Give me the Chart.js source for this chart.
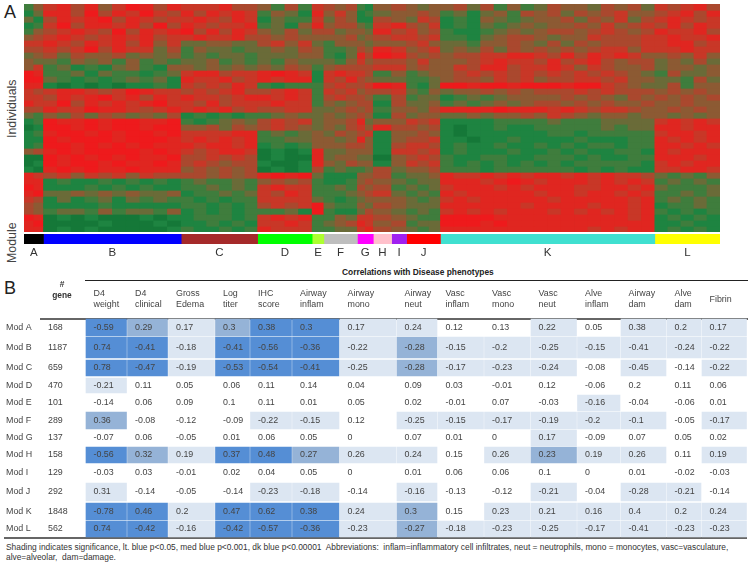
<!DOCTYPE html>
<html>
<head>
<meta charset="utf-8">
<title>Module heatmap and phenotype correlations</title>
<script src="https://cdn.jsdelivr.net/npm/chart.js@4/dist/chart.umd.min.js"></script>
<style>
	html, body { margin: 0; padding: 0; background: #fff; }
	body { position: relative; width: 752px; height: 566px; overflow: hidden; font-family: "Liberation Sans", Arial, sans-serif; color: #444; }
	canvas { position: absolute; display: block; }
	.txt { position: absolute; white-space: pre; }
	.rule { position: absolute; }
	.panel { font-size: 18px; color: #222; line-height: 18px; }
	.side { font-size: 12.4px; line-height: 14px; transform-origin: 0 0; transform: rotate(-90deg); }
</style>
</head>
<body>
<div class="txt panel" style="left:4px;top:3px">A</div>
<div class="txt panel" style="left:4px;top:279px">B</div>
<div class="txt side" style="left:5px;top:138px">Individuals</div>
<div class="txt side" style="left:5px;top:263px">Module</div>
<canvas id="heat-chart" width="696" height="228" style="left:24px;top:4px;background:#8a5a33"></canvas>
<canvas id="strip-chart" width="696" height="26" style="left:24px;top:234px"></canvas>
<div class="txt" style="left:342px;top:267px;font-size:8.4px;line-height:10px;font-weight:bold;color:#222">Correlations with Disease phenotypes</div>
<div class="rule" style="left:85px;top:280px;width:663px;height:1px;background:#222"></div>
<div class="rule" style="left:40px;top:318px;width:708px;height:2px;background:#666"></div>
<div class="rule" style="left:4px;top:537px;width:743px;height:2px;background:#666"></div>
<canvas id="table-chart" width="752" height="280" style="left:0;top:262px"></canvas>
<div class="txt" style="left:6px;top:542px;font-size:8.4px;line-height:10px;color:#333">Shading indicates significance, lt. blue p&lt;0.05, med blue p&lt;0.001, dk blue p&lt;0.00001  Abbreviations:  inflam=inflammatory cell infiltrates, neut = neutrophils, mono = monocytes, vasc=vasculature,
alve=alveolar,  dam=damage.</div>

<script>
const moduleLetters = ['A', 'B', 'C', 'D', 'E', 'F', 'G', 'H', 'I', 'J', 'K', 'L'];
const moduleGenes = [168, 1187, 659, 470, 101, 289, 137, 158, 129, 292, 1848, 562];
const moduleColors = ['#000000', '#0000ff', '#a52a2a', '#00ff00', '#adff2f', '#bebebe', '#ff00ff', '#ffc0cb', '#a020f0', '#ff0000', '#40e0d0', '#ffff00'];

// one line per band of individuals, one group per module, 0 = green ... 9 = red
const heatRows = [
	'35 7868579868 777866 5363 7 656 32 5 6 545 5646353465546564 76786',
	'24 8869687976 868787 3542 8 575 23 4 5 565 3424536564656755 67868',
	'42 6878968767 787687 2433 7 465 22 6 5 476 2325434556465746 78767',
	'23 7968878696 876778 3425 8 566 43 7 8 657 2324345455657567 68687',
	'35 6787696878 968687 5464 6 645 54 8 6 756 3223454566567656 87786',
	'56 7876787867 787786 6565 5 556 45 6 7 767 3324566545576667 78778',
	'77 8768786857 445544 6757 4 355 54 5 5 675 4435565464656667 78867',
	'66 7679687746 354434 4546 5 334 65 8 7 567 4546465656567757 77877',
	'45 6465564545 343443 4445 5 324 86 9 8 656 5667788768687875 56575',
	'54 4354535343 445343 4354 4 435 75 6 6 575 5567877686786566 45464',
	'57 3423245325 545454 5465 3 566 66 7 7 565 5768867787576556 45545',
	'98 3342433234 788677 8987 2 787 76 3 5 345 5676767676767654 36445',
	'99 4323234342 877867 8788 2 768 65 4 4 334 5665767566776755 44364',
	'88 2121212232 767687 3233 3 676 67 9 8 324 9989989998997654 46355',
	'76 7887679877 676786 6787 3 767 56 6 7 435 4556565666767666 56565',
	'77 6878978687 877678 8787 3 676 65 3 6 344 2343455556565465 65656',
	'87 7968787897 768677 7877 3 545 66 2 6 445 3434545665656556 55655',
	'66 8779887678 787867 6677 4 456 56 3 5 546 8888988878767765 56565',
	'43 5464654546 232323 3454 4 545 65 2 6 455 4454556576545545 54545',
	'23 9889899889 323454 6767 4 556 84 5 5 767 2222333343334444 78787',
	'12 9989899899 556465 6765 4 546 75 8 6 656 2122322333334344 88788',
	'23 8998989989 777788 3434 5 465 67 2 5 565 2122222233233333 78878',
	'22 9899989998 787878 3344 5 545 85 2 5 667 2212232222322233 87878',
	'23 9989898988 878878 2323 5 556 65 2 6 776 2322322323233233 88787',
	'56 8989999898 767887 1212 8 445 55 2 7 767 2322232232322332 87888',
	'11 9898989889 667676 1211 8 455 44 1 5 676 3223322333232233 88878',
	'12 9899898898 676566 2112 8 546 55 2 5 767 3232323232333332 78788',
	'21 8989889888 565656 1212 6 343 34 6 4 556 3332333333232322 77887',
	'87 6757675766 665656 8989 4 222 55 6 3 445 8778787887878776 43435',
	'88 2322323232 343343 5656 3 223 56 5 4 344 8887898788878787 34343',
	'98 2223232322 334343 7877 3 343 65 6 3 434 7888787888778878 43334',
	'89 4454545445 233434 7687 3 334 56 7 4 343 8788888788788787 33434',
	'76 2423424343 323233 7777 4 323 45 5 5 434 7878888878888878 34343',
	'65 2222322222 332323 6767 9 433 54 6 5 444 8888887888878878 23343',
	'65 3443534435 232323 3342 9 322 46 5 4 343 7878788878787878 32323',
	'98 1212111212 233323 7878 3 354 77 6 5 433 9999888888888878 23232',
	'89 1111211121 223232 7787 3 456 87 5 6 344 9998988888888888 22322',
	'88 1212111112 322323 8777 3 344 78 6 5 434 8888888888878788 23232'
];

const phenotypes = [['D4', 'weight'], ['D4', 'clinical'], ['Gross', 'Edema'], ['Log', 'titer'], ['IHC', 'score'], ['Airway', 'inflam'], ['Airway', 'mono'], ['Airway', 'neut'], ['Vasc', 'inflam'], ['Vasc', 'mono'], ['Vasc', 'neut'], ['Alve', 'inflam'], ['Airway', 'dam'], ['Alve', 'dam'], ['Fibrin']];

const correlations = [
	[-0.59, 0.29, 0.17, 0.3, 0.38, 0.3, 0.17, 0.24, 0.12, 0.13, 0.22, 0.05, 0.38, 0.2, 0.17],
	[0.74, -0.41, -0.18, -0.41, -0.56, -0.36, -0.22, -0.28, -0.15, -0.2, -0.25, -0.15, -0.41, -0.24, -0.22],
	[0.78, -0.47, -0.19, -0.53, -0.54, -0.41, -0.25, -0.28, -0.17, -0.23, -0.24, -0.08, -0.45, -0.14, -0.22],
	[-0.21, 0.11, 0.05, 0.06, 0.11, 0.14, 0.04, 0.09, 0.03, -0.01, 0.12, -0.06, 0.2, 0.11, 0.06],
	[-0.14, 0.06, 0.09, 0.1, 0.11, 0.01, 0.05, 0.02, -0.01, 0.07, -0.03, -0.16, -0.04, -0.06, 0.01],
	[0.36, -0.08, -0.12, -0.09, -0.22, -0.15, 0.12, -0.25, -0.15, -0.17, -0.19, -0.2, -0.1, -0.05, -0.17],
	[-0.07, 0.06, -0.05, 0.01, 0.06, 0.05, 0, 0.07, 0.01, 0, 0.17, -0.09, 0.07, 0.05, 0.02],
	[-0.56, 0.32, 0.19, 0.37, 0.48, 0.27, 0.26, 0.24, 0.15, 0.26, 0.23, 0.19, 0.26, 0.11, 0.19],
	[-0.03, 0.03, -0.01, 0.02, 0.04, 0.05, 0, 0.01, 0.06, 0.06, 0.1, 0, 0.01, -0.02, -0.03],
	[0.31, -0.14, -0.05, -0.14, -0.23, -0.18, -0.14, -0.16, -0.13, -0.12, -0.21, -0.04, -0.28, -0.21, -0.14],
	[-0.78, 0.46, 0.2, 0.47, 0.62, 0.38, 0.24, 0.3, 0.15, 0.23, 0.21, 0.16, 0.4, 0.2, 0.24],
	[0.74, -0.42, -0.16, -0.42, -0.57, -0.36, -0.23, -0.27, -0.18, -0.23, -0.25, -0.17, -0.41, -0.23, -0.23]
];

// 0 = not significant, 1 = p<0.05, 2 = p<0.001, 3 = p<0.00001
const significance = [
	[3, 2, 1, 2, 3, 3, 1, 1, 0, 0, 1, 0, 1, 1, 1],
	[3, 3, 1, 3, 3, 3, 1, 2, 1, 1, 1, 1, 1, 1, 1],
	[3, 3, 1, 3, 3, 3, 1, 2, 1, 1, 1, 0, 1, 0, 1],
	[1, 0, 0, 0, 0, 0, 0, 0, 0, 0, 0, 0, 0, 0, 0],
	[0, 0, 0, 0, 0, 0, 0, 0, 0, 0, 0, 1, 0, 0, 0],
	[2, 0, 0, 0, 1, 1, 0, 1, 1, 1, 1, 1, 1, 0, 1],
	[0, 0, 0, 0, 0, 0, 0, 0, 0, 0, 1, 0, 0, 0, 0],
	[3, 2, 1, 3, 3, 2, 1, 1, 0, 1, 2, 1, 1, 0, 1],
	[0, 0, 0, 0, 0, 0, 0, 0, 0, 0, 0, 0, 0, 0, 0],
	[1, 0, 0, 0, 1, 1, 0, 1, 0, 0, 1, 0, 1, 1, 0],
	[3, 3, 1, 3, 3, 3, 1, 2, 0, 1, 1, 1, 1, 1, 1],
	[3, 3, 1, 3, 3, 3, 1, 2, 1, 1, 1, 1, 1, 1, 1]
];

// styling and table layout
const heatPalette = ['#0d6a30', '#157838', '#1e8441', '#3f7d3d', '#6a6b38', '#8c5a33', '#aa482e', '#c83727', '#e02620', '#ee1a1c'];
const sigColors = ['rgba(0,0,0,0)', '#dce6f2', '#95b3d7', '#558ed5'];
const colEdges = [86, 127.5, 168.5, 215.5, 250.5, 292.5, 340, 397, 438, 484.5, 531, 577.5, 621, 667, 702, 747.5];
const rowTops = [319, 337, 360, 378, 395, 412, 430, 447, 464, 483, 503, 521];
const rowBottoms = [336, 358, 376, 393, 411, 429, 446, 463, 482, 501, 520, 537];
const headerLineY = [294, 305];
const font = '"Liberation Sans", Arial, sans-serif';

Chart.defaults.animation = false;
Chart.defaults.events = [];
Chart.defaults.plugins.legend.display = false;
Chart.defaults.plugins.tooltip.enabled = false;

function heatDatasets() {
	return heatRows.map((line, r) => {
		const data = [], colors = [];
		let start = 0;
		line.split(' ').forEach((group, m) => {
			const w = moduleGenes[m] / group.length;
			group.split('').forEach((d, c) => {
				data.push({x: [start + c * w, start + (c + 1) * w], y: r});
				colors.push(heatPalette[+d]);
			});
			start += moduleGenes[m];
		});
		return {data, backgroundColor: colors, grouped: false, barThickness: 6.6, borderWidth: 0};
	});
}

function geneTotal() {
	return moduleGenes.reduce((a, b) => a + b, 0);
}

function initHeat() {
	new Chart(document.getElementById('heat-chart'), {
		type: 'bar',
		data: {datasets: heatDatasets()},
		options: {
			indexAxis: 'y',
			responsive: false,
			layout: {padding: 0},
			scales: {
				x: {type: 'linear', min: 0, max: geneTotal(), display: false},
				y: {type: 'linear', offset: false, min: -0.5, max: heatRows.length - 0.5, reverse: true, display: false}
			}
		}
	});
}

function initStrip() {
	let sum = 0;
	const centres = moduleGenes.map(g => {
		const c = sum + g / 2;
		sum += g;
		return c;
	});
	new Chart(document.getElementById('strip-chart'), {
		type: 'bar',
		data: {
			labels: ['Module'],
			datasets: moduleGenes.map((g, i) => ({data: [g], backgroundColor: moduleColors[i], barPercentage: 1, categoryPercentage: 1}))
		},
		options: {
			indexAxis: 'y',
			responsive: false,
			layout: {padding: 0},
			scales: {
				x: {
					type: 'linear', stacked: true, min: 0, max: geneTotal(),
					grid: {display: false, drawTicks: false},
					border: {display: false},
					afterFit: scale => { scale.height = 16; },
					afterBuildTicks: scale => { scale.ticks = centres.map(v => ({value: v})); },
					ticks: {
						autoSkip: false, maxRotation: 0, padding: 2, color: '#333',
						font: {family: font, size: 11.5},
						callback: (v, i) => moduleLetters[i]
					}
				},
				y: {stacked: true, display: false}
			}
		}
	});
}

// table text sits on the same scales as the shaded cells
const tableText = {
	id: 'tableText',
	afterDatasetsDraw(chart) {
		const {ctx, scales: {x, y}} = chart;
		const px = v => x.getPixelForValue(v);
		const py = v => y.getPixelForValue(v);
		ctx.save();
		ctx.textBaseline = 'middle';
		ctx.textAlign = 'left';
		ctx.font = '8.9px ' + font;
		ctx.fillStyle = '#444';
		correlations.forEach((row, r) => {
			const yc = py((rowTops[r] + rowBottoms[r]) / 2);
			ctx.fillText('Mod ' + moduleLetters[r], px(6), yc);
			ctx.fillText(String(moduleGenes[r]), px(48), yc);
			row.forEach((v, c) => ctx.fillText(String(v), px(colEdges[c] + 7.5), yc));
		});
		phenotypes.forEach((lines, c) => {
			if (lines.length === 1) {
				ctx.fillText(lines[0], px(colEdges[c] + 7.5), py((headerLineY[0] + headerLineY[1]) / 2));
			} else {
				lines.forEach((t, i) => ctx.fillText(t, px(colEdges[c] + 7.5), py(headerLineY[i])));
			}
		});
		ctx.font = 'bold 8.4px ' + font;
		ctx.textAlign = 'center';
		ctx.fillStyle = '#333';
		ctx.fillText('#', px(62), py(285));
		ctx.fillText('gene', px(62), py(296));
		ctx.restore();
	}
};

function initTable() {
	const datasets = correlations.map((row, r) => ({
		data: row.map((v, c) => ({x: [colEdges[c], colEdges[c + 1] - 1], y: (rowTops[r] + rowBottoms[r]) / 2})),
		backgroundColor: significance[r].map(s => sigColors[s]),
		grouped: false,
		barThickness: rowBottoms[r] - rowTops[r],
		borderWidth: 0
	}));
	new Chart(document.getElementById('table-chart'), {
		type: 'bar',
		data: {datasets},
		plugins: [tableText],
		options: {
			indexAxis: 'y',
			responsive: false,
			layout: {padding: 0},
			scales: {
				x: {type: 'linear', min: 0, max: 752, display: false},
				y: {type: 'linear', offset: false, min: 262, max: 542, reverse: true, display: false}
			}
		}
	});
}

initHeat();
initStrip();
initTable();
</script>
</body>
</html>
